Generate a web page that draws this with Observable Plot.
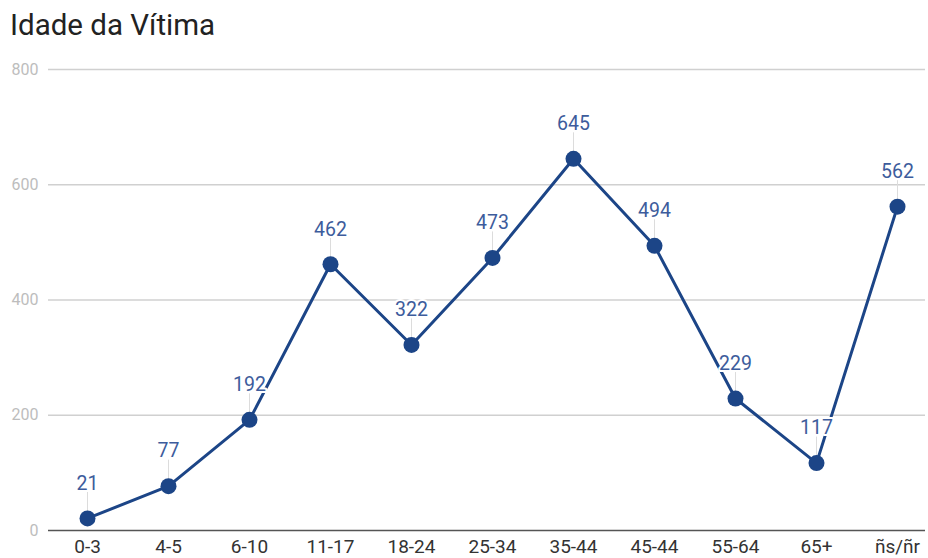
<!DOCTYPE html>
<html>
<head>
<meta charset="utf-8">
<script src="https://cdn.jsdelivr.net/npm/d3@7"></script>
<script src="https://cdn.jsdelivr.net/npm/@observablehq/plot@0.6"></script>
<style>
  body { margin: 0; background: #fff; font-family: Roboto, sans-serif; }
  #title { height: 50px; box-sizing: border-box; padding: 7px 0 0 10px; font-size: 29.5px; color: #222; line-height: 36px; }
</style>
</head>
<body>
<div id="title">Idade da Vítima</div>
<div id="chart"></div>
<script>
const categories = ["0-3", "4-5", "6-10", "11-17", "18-24", "25-34", "35-44", "45-44", "55-64", "65+", "ñs/ñr"];
const values = [21, 77, 192, 462, 322, 473, 645, 494, 229, 117, 562];
const yTicks = [0, 200, 400, 600, 800];

const data = categories.map((c, i) => ({cat: c, v: values[i]}));
const lineColor = "#1c4587";
const labelColor = "#3d5c9c";

const chart = Plot.plot({
  width: 928,
  height: 508,
  marginTop: 19,
  marginBottom: 28,
  marginLeft: 48,
  marginRight: 3,
  style: {fontFamily: "Roboto, sans-serif", background: "#fff"},
  x: {type: "point", domain: categories, range: [87, 897], padding: 0, label: null},
  y: {domain: [0, 800], label: null},
  marks: [
    Plot.ruleY(yTicks.filter(t => t > 0), {stroke: "#d0d0d0", strokeWidth: 1.3}),
    Plot.axisY(yTicks, {tickSize: 0, tickPadding: 10, fontSize: 16, fill: "#bdbdbd", label: null}),
    Plot.axisX({tickSize: 0, tickPadding: 9, fontSize: 19, fill: "#333", label: null}),
    Plot.ruleY([0], {stroke: "#555", strokeWidth: 1.6}),
    Plot.ruleX(data, {x: "cat", y1: "v", y2: "v", insetTop: -26, stroke: "#dcdcdc", strokeWidth: 1}),
    Plot.line(data, {x: "cat", y: "v", stroke: lineColor, strokeWidth: 3}),
    Plot.dot(data, {x: "cat", y: "v", r: 8, fill: lineColor, stroke: "none"}),
    Plot.text(data, {x: "cat", y: "v", text: d => String(d.v), dy: -35, fontSize: 19.5, fill: labelColor, stroke: "white", strokeWidth: 4, paintOrder: "stroke"})
  ]
});
document.getElementById("chart").appendChild(chart);
</script>
</body>
</html>
